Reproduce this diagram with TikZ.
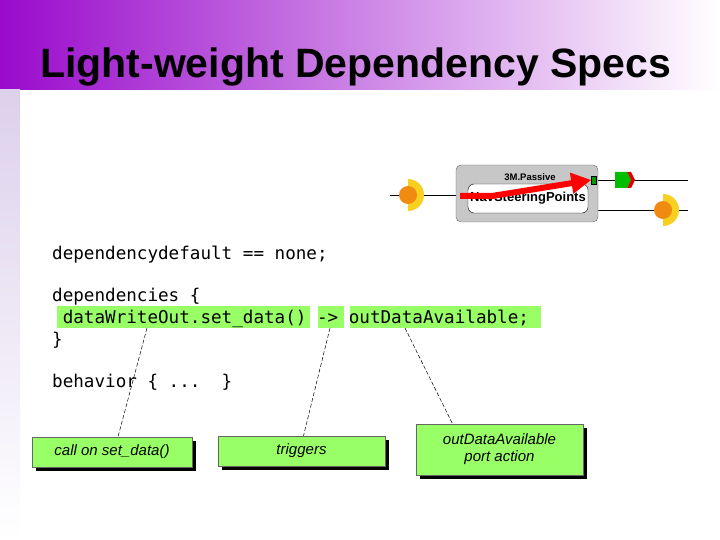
\documentclass[tikz,border=0pt]{standalone}
\usepackage{fontspec}
\setmainfont{Liberation Sans}
\newfontfamily\codefont{DejaVu Sans Mono}
\usetikzlibrary{positioning,arrows.meta,shadows}
\definecolor{purp}{HTML}{9A0ACC}
\definecolor{lav}{HTML}{DCD0EC}
\definecolor{hl}{HTML}{99FF66}
\definecolor{portor}{HTML}{F08A10}
\definecolor{portye}{HTML}{F8D020}
\tikzset{
    code/.style={anchor=base west,inner sep=0pt,font=\codefont\fontsize{17.6}{19}\selectfont},
    codemark/.style={fill=hl,draw=none},
    note/.style={fill=hl,draw=black!60,line width=0.4pt,align=center,
        font=\itshape\fontsize{15}{17}\selectfont,
        drop shadow={shadow xshift=4pt,shadow yshift=-4pt,fill=black,opacity=1}},
    lead/.style={dashed,line width=0.5pt,dash pattern=on 4pt off 2pt}
}
\newcommand{\provport}[2]{
    \fill[portye] (#1,#2-16) arc (-90:90:16) -- (#1,#2+16) -- cycle;
    \fill[portor] (#1,#2) circle (9);
}
\begin{document}
\begin{tikzpicture}[x=1pt,y=-1pt]
\useasboundingbox (0,0) rectangle (720,540);
% title band
\shade[left color=purp,right color=white] (0,0) rectangle (720,90);
\shade[top color=lav,bottom color=white] (0,90) rectangle (20,540);
\node[anchor=base west,inner sep=0pt,font=\bfseries\fontsize{41}{43}\selectfont]
    (title) at (40,78) {Light-weight Dependency Specs};

% component picture
\draw (390,195) -- (456,195);
\draw (598,210) -- (688,210);
\draw (598,180) -- (688,180);
\provport{408}{195}
\provport{663}{210}
\node[draw=black!60,fill=black!22,rounded corners=5pt,minimum width=142,minimum height=57,inner sep=0pt]
    (comp) at (527,193.5) {};
\node[font=\bfseries\fontsize{9.5}{10}\selectfont,inner sep=0pt] (kind) at (530,177) {3M.Passive};
\node[draw=black,fill=white,rounded corners=6pt,minimum width=120,minimum height=29,inner sep=0pt,
    font=\bfseries\fontsize{13}{15}\selectfont] (inst) at (528,198.5) {NavSteeringPoints};
\node[fill=green!60!black,draw=black,minimum width=5,minimum height=8,inner sep=0pt] (outp) at (594,180) {};
\fill[green!75!black] (615,172) -- (627,172) -- (631,180) -- (627,188) -- (615,188) -- cycle;
\fill[red!85!black] (627,172) -- (631,172) -- (635,180) -- (631,188) -- (627,188) -- (631,180) -- cycle;
\coordinate (flowstart) at (460,196);
\coordinate (flowbend) at (492,196);
\draw[red,line width=6pt,-{Triangle[length=20pt,width=20pt]}] (flowstart) -- (flowbend) -- (outp.west);

% code
\fill[codemark] (57,306) rectangle (310,328);
\fill[codemark] (318,306) rectangle (344,328);
\fill[codemark] (350,306) rectangle (541,328);
\node[code] (dflt) at (52,259) {dependencydefault == none;};
\node[code] (deps) at (52,301) {dependencies \{};
\node[code] (rule) at (52,323) {\ dataWriteOut.set\_data() -> outDataAvailable;};
\node[code] (close) at (52,345) {\}};
\node[code] (behav) at (52,387) {behavior \{ ...\ \ \}};
\coordinate (setd) at (147,328);
\coordinate (arrw) at (330,328);
\coordinate (outd) at (405,328);

% callouts
\node[note,minimum width=160,minimum height=30] (n1) at (112,452) {call on set\_data()};
\node[note,minimum width=167,minimum height=30] (n2) at (301.5,451) {triggers};
\node[note,minimum width=167,minimum height=51,inner sep=2pt] (n3) at (499.5,449.5) {outDataAvailable\\port action};
\draw[lead] (setd) -- ([xshift=6pt]n1.north);
\draw[lead] (arrw) -- ([xshift=2pt]n2.north);
\draw[lead] (outd) -- ([xshift=-47pt]n3.north);
\end{tikzpicture}
\end{document}
